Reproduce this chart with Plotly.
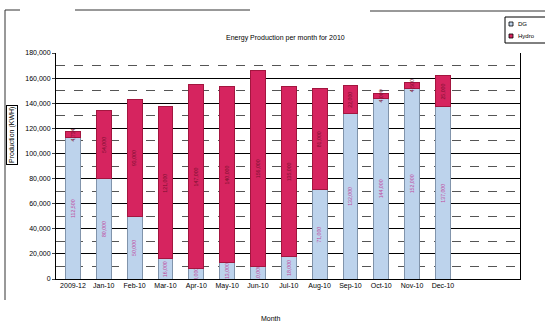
import plotly.graph_objects as go

months = ["2009-12", "Jan-10", "Feb-10", "Mar-10", "Apr-10", "May-10", "Jun-10",
          "Jul-10", "Aug-10", "Sep-10", "Oct-10", "Nov-10", "Dec-10"]
dg = [112500, 80000, 50000, 16000, 8000, 13000, 10000, 18000, 71000, 132000, 144000, 152000, 137000]
hydro = [4734, 54000, 93000, 121000, 147000, 140000, 156000, 135000, 81000, 22000, 4000, 4500, 25000]
y_ticks = [0, 20000, 40000, 60000, 80000, 100000, 120000, 140000, 160000, 180000]
series_names = ["DG", "Hydro"]
series_colors = ["#bdd3ec", "#d6245f"]
series_edges = ["#8194ab", "#a3163f"]

def fmt(v):
    return f"{v:,}"

W, H = 545, 329
L, R, T, B = 56, 25, 53, 50
PW, PH = W - L - R, H - T - B

def px(x):
    return (x - L) / PW

def py(y):
    return (H - B - y) / PH

fig = go.Figure()
fig.add_trace(go.Bar(
    x=months, y=dg, name=series_names[0], width=0.48,
    marker=dict(color=series_colors[0], line=dict(color=series_edges[0], width=1)),
    text=[fmt(v) for v in dg], textposition="inside", textangle=-90,
    insidetextanchor="middle",
    textfont=dict(family="Arial", size=6, color="#c04aa0"),
))
fig.add_trace(go.Bar(
    x=months, y=hydro, name=series_names[1], width=0.48,
    marker=dict(color=series_colors[1], line=dict(color=series_edges[1], width=1)),
    text=[fmt(v) for v in hydro], textposition="inside", textangle=-90,
    insidetextanchor="middle",
    textfont=dict(family="Arial", size=6, color="#7a1030"),
))

fig.update_layout(
    width=W, height=H,
    barmode="stack",
    paper_bgcolor="white", plot_bgcolor="white",
    margin=dict(l=L, r=R, t=T, b=B, autoexpand=False),
    font=dict(family="Arial", size=7, color="black"),
    showlegend=False,
    uniformtext=dict(minsize=5, mode="show"),
)
fig.update_xaxes(
    type="category", range=[-0.55, 14.5],
    showline=True, linecolor="black", linewidth=1,
    ticks="", tickfont=dict(size=7, family="Arial"),
    showgrid=False,
)
fig.update_yaxes(
    range=[0, 180000], tickvals=y_ticks, ticktext=[fmt(v) for v in y_ticks],
    showline=True, linecolor="black", linewidth=1, mirror=True,
    ticks="outside", ticklen=3,
    showgrid=True, gridcolor="black", gridwidth=1,
    minor=dict(dtick=10000, showgrid=True, gridcolor="#555", griddash="dash", gridwidth=0.6),
    tickfont=dict(size=7, family="Arial"),
    zeroline=False,
)
fig.add_annotation(text="Energy Production per month for 2010", xref="paper", yref="paper",
                   x=px(285), y=py(32), showarrow=False, font=dict(size=7))
fig.add_annotation(text="Production (KWH)", textangle=-90, xref="paper", yref="paper",
                   x=px(12), y=py(135), xanchor="center", yanchor="middle",
                   showarrow=False, bordercolor="black", borderwidth=1, borderpad=1,
                   font=dict(size=7))
fig.add_annotation(text="Month", xref="paper", yref="paper",
                   x=px(271), y=py(324), showarrow=False, font=dict(size=7))

# legend box (manual, small)
fig.add_shape(type="rect", xref="paper", yref="paper", x0=px(505), x1=px(548),
              y0=py(43), y1=py(17), line=dict(color="black", width=1), fillcolor="white")
for i, (nm, col, ed) in enumerate(zip(series_names, series_colors, series_edges)):
    yc = 24 + i * 12
    fig.add_shape(type="rect", xref="paper", yref="paper", x0=px(509), x1=px(513),
                  y0=py(yc + 2), y1=py(yc - 2), line=dict(color="black", width=0.8),
                  fillcolor=col)
    fig.add_annotation(text=nm, xref="paper", yref="paper", x=px(516), y=py(yc),
                       xanchor="left", yanchor="middle", showarrow=False,
                       font=dict(size=6))

line_style = dict(color="#333", width=1)
fig.add_shape(type="line", xref="paper", yref="paper", x0=px(5), x1=px(5),
              y0=py(10), y1=py(300), line=line_style)
fig.add_shape(type="line", xref="paper", yref="paper", x0=px(5), x1=px(20),
              y0=py(10), y1=py(10), line=line_style)
fig.add_shape(type="line", xref="paper", yref="paper", x0=px(75), x1=px(250),
              y0=py(10), y1=py(10), line=line_style)
fig.add_shape(type="line", xref="paper", yref="paper", x0=px(370), x1=px(545),
              y0=py(11), y1=py(11), line=line_style)

fig.write_html("out.html", config={"displayModeBar": False},
               post_script="document.body.style.margin='0';")
